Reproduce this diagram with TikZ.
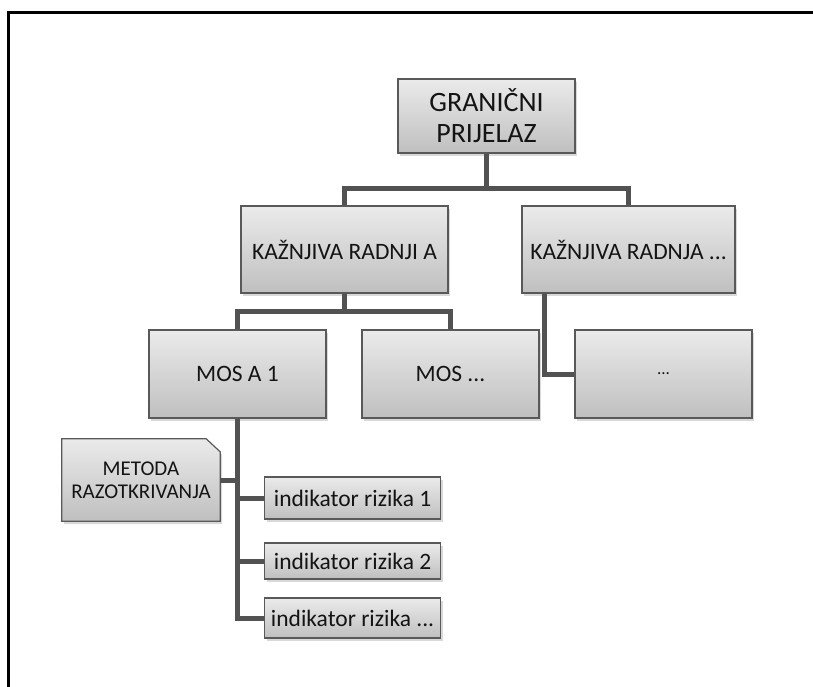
\documentclass[tikz,border=0pt]{standalone}
\usepackage{fontspec}
\setmainfont{Carlito}
\usetikzlibrary{shadows,backgrounds}

\begin{document}
\begin{tikzpicture}[x=1pt, y=-1pt,
    grayBox/.style={draw=black!65, line width=1.2pt, top color=gray!16, bottom color=gray!50, text=black!92, inner sep=0pt, align=center, drop shadow={shadow xshift=2pt, shadow yshift=-3pt, opacity=0.3}},
    bigBox/.style={grayBox, minimum width=177pt, minimum height=88pt, font=\fontsize{23.5}{26}\selectfont},
    indBox/.style={grayBox, minimum width=176pt, anchor=west, font=\fontsize{23.5}{26}\selectfont},
    link/.style={draw=black!68, line width=5pt}]
    \useasboundingbox (0,0) rectangle (813,687);
    \draw[line width=2.5pt] (8.5,687) -- (8.5,12.5) -- (813,12.5);

    \node[grayBox, minimum width=177pt, minimum height=74pt, font=\fontsize{28}{31}\selectfont] (gp) at (486.5,116) {GRANIČNI\\PRIJELAZ};
    \node[bigBox, minimum width=207pt, minimum height=87pt] (kra) at (344.5,249.5) {KAŽNJIVA RADNJI A};
    \node[bigBox, minimum width=213pt, minimum height=87pt] (krd) at (628.5,249.5) {KAŽNJIVA RADNJA ...};
    \node[bigBox] (mos1) at (237.5,374) {MOS A 1};
    \node[bigBox] (mosd) at (450.5,374) {MOS ...};
    \node[bigBox, font=\fontsize{17}{20}\selectfont] (dots) at (663.5,374) {...};
    \node[text=black!92, minimum width=158pt, minimum height=82pt, inner sep=0pt, align=center, font=\fontsize{21}{23}\selectfont] (met) at (141,480) {METODA\\RAZOTKRIVANJA};
    \begin{scope}[on background layer]
        \path[grayBox] (met.south west) -- (met.north west) -- ([xshift=-14pt]met.north east)
            -- ([yshift=-13pt]met.north east) -- (met.south east) -- cycle;
    \end{scope}
    \node[indBox, minimum height=42pt] (ind1) at (264,498) {indikator rizika 1};
    \node[indBox, minimum height=36pt] (ind2) at (264,561) {indikator rizika 2};
    \node[indBox, minimum height=40pt] (ind3) at (264,618) {indikator rizika ...};

    \draw[link] (gp.south) -- ++(0,34.5) -| (kra.north);
    \draw[link] (gp.south) -- ++(0,34.5) -| (krd.north);
    \draw[link] (kra.south) -- ++(0,18) -| (mos1.north);
    \draw[link] (kra.south) -- ++(0,18) -| (mosd.north);
    \draw[link] ([xshift=23pt]krd.south west) |- (dots.west);
    \draw[link] (mos1.south) |- (ind3.west);
    \draw[link] (mos1.south) |- (ind1.west);
    \draw[link] (mos1.south) |- (ind2.west);
    \draw[link] (mos1.south) |- (met.east);
\end{tikzpicture}
\end{document}
